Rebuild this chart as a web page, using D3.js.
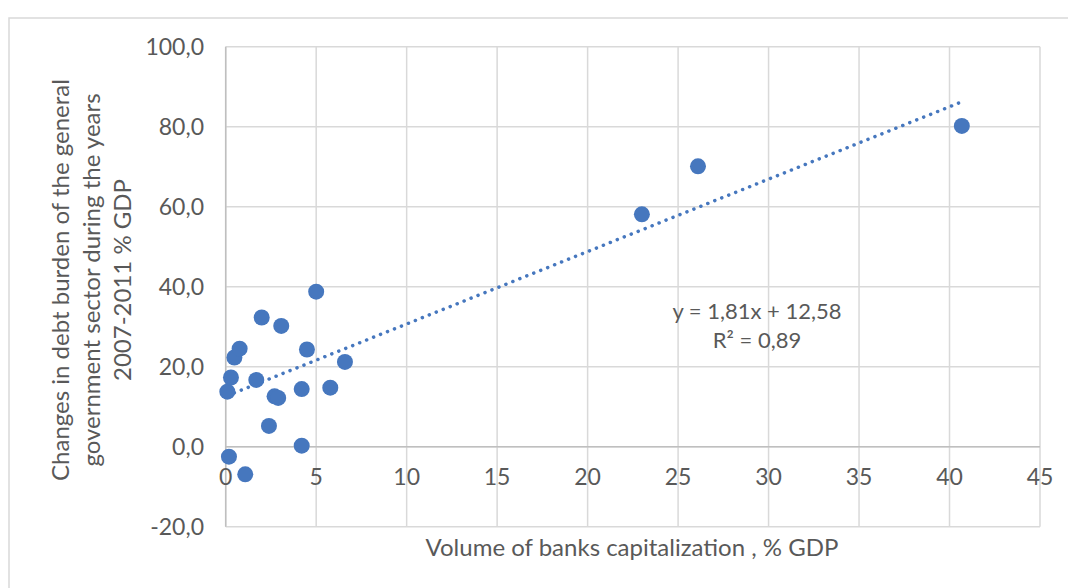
<!DOCTYPE html>
<html>

<head>
    <style>
        body {
            margin: 0;
            background: #fff;
            font-family: Lato, "Open Sans", sans-serif;
        }

        text {
            fill: #595959;
        }
    </style>
    <script src="https://d3js.org/d3.v7.min.js"></script>
</head>

<body>
    <svg width="1068" height="588"></svg>

    <script>
        // volume of banks capitalization, % GDP
        var capX = [0.09, 0.29, 0.48, 0.77, 0.18, 1.08, 1.69, 1.99, 2.39, 2.7, 2.9,
            3.07, 4.2, 4.2, 4.49, 5.0, 5.78, 6.59, 23.0, 26.1, 40.68];
        // change in debt burden 2007-2011, % GDP
        var debtY = [13.75, 17.3, 22.3, 24.5, -2.5, -6.9, 16.7, 32.3, 5.2, 12.6, 12.2,
            30.2, 14.4, 0.25, 24.3, 38.75, 14.75, 21.2, 58.1, 70.1, 80.2];

        var xTicks = [0, 5, 10, 15, 20, 25, 30, 35, 40, 45];
        var yTicks = [-20, 0, 20, 40, 60, 80, 100];

        // trendline coefficients as shown on the chart
        var slope = 1.81, intercept = 12.58, r2 = 0.89;

        var points = capX.map(function (d, i) { return { x: d, y: debtY[i] }; });

        var svg = d3.select("svg");

        // chart area border
        svg.append("rect")
            .attr("x", 9).attr("y", 18)
            .attr("width", 1100).attr("height", 600)
            .attr("fill", "none")
            .attr("stroke", "#d9d9d9")
            .attr("stroke-width", 1.5);

        var x = d3.scaleLinear().domain([0, 45]).range([225.7, 1040]);
        var y = d3.scaleLinear().domain([-20, 100]).range([526.7, 46.7]);

        var fmtY = function (d) { return d3.format(".1f")(d).replace(".", ",").replace("−", "-"); };

        // gridlines
        svg.append("g").selectAll("line")
            .data(yTicks)
            .enter().append("line")
            .attr("x1", x(0)).attr("x2", x(45))
            .attr("y1", function (d) { return y(d); })
            .attr("y2", function (d) { return y(d); })
            .attr("stroke", "#d9d9d9")
            .attr("stroke-width", 1.5);

        svg.append("g").selectAll("line")
            .data(xTicks)
            .enter().append("line")
            .attr("x1", function (d) { return x(d); })
            .attr("x2", function (d) { return x(d); })
            .attr("y1", y(-20)).attr("y2", y(100))
            .attr("stroke", "#d9d9d9")
            .attr("stroke-width", 1.5);

        // x axis line sits at y = 0
        svg.append("line")
            .attr("x1", x(0)).attr("x2", x(45))
            .attr("y1", y(0)).attr("y2", y(0))
            .attr("stroke", "#bfbfbf")
            .attr("stroke-width", 1.5);

        svg.append("line")
            .attr("x1", x(0)).attr("x2", x(0))
            .attr("y1", y(-20)).attr("y2", y(100))
            .attr("stroke", "#bfbfbf")
            .attr("stroke-width", 1.5);

        // tick labels
        svg.append("g").selectAll("text")
            .data(xTicks)
            .enter().append("text")
            .attr("x", function (d) { return x(d); })
            .attr("y", y(0) + 38)
            .attr("text-anchor", "middle")
            .style("font-size", "23px")
            .text(function (d) { return d; });

        svg.append("g").selectAll("text")
            .data(yTicks)
            .enter().append("text")
            .attr("x", 204)
            .attr("y", function (d) { return y(d); })
            .attr("dy", "0.36em")
            .attr("text-anchor", "end")
            .style("font-size", "23px")
            .text(fmtY);

        // trendline
        var ext = d3.extent(capX);
        svg.append("line")
            .attr("x1", x(ext[0])).attr("y1", y(slope * ext[0] + intercept))
            .attr("x2", x(ext[1])).attr("y2", y(slope * ext[1] + intercept))
            .attr("stroke", "#4677be")
            .attr("stroke-width", 3.5)
            .attr("stroke-linecap", "round")
            .attr("stroke-dasharray", "0.1 7.4");

        // points
        svg.append("g").selectAll("circle")
            .data(points)
            .enter().append("circle")
            .attr("cx", function (d) { return x(d.x); })
            .attr("cy", function (d) { return y(d.y); })
            .attr("r", 8)
            .attr("fill", "#4677be");

        // equation label
        var eq = svg.append("text")
            .attr("x", 757).attr("y", 319)
            .attr("text-anchor", "middle")
            .style("font-size", "22px");
        eq.append("tspan").attr("x", 757)
            .text("y = " + String(slope).replace(".", ",") + "x + " + String(intercept).replace(".", ","));
        eq.append("tspan").attr("x", 757).attr("dy", 29)
            .text("R² = " + String(r2).replace(".", ","));

        // axis titles
        svg.append("text")
            .attr("x", 632).attr("y", 556)
            .attr("text-anchor", "middle")
            .style("font-size", "24px")
            .text("Volume of banks capitalization , % GDP");

        var yTitle = ["Changes in debt burden of the general",
            "government sector during the years",
            "2007-2011  % GDP"];
        svg.append("g")
            .attr("transform", "translate(69,280) rotate(-90)")
            .selectAll("text")
            .data(yTitle)
            .enter().append("text")
            .attr("x", 0)
            .attr("y", function (d, i) { return i * 31; })
            .attr("text-anchor", "middle")
            .style("font-size", "24px")
            .text(function (d) { return d; });
    </script>

</body>

</html>
